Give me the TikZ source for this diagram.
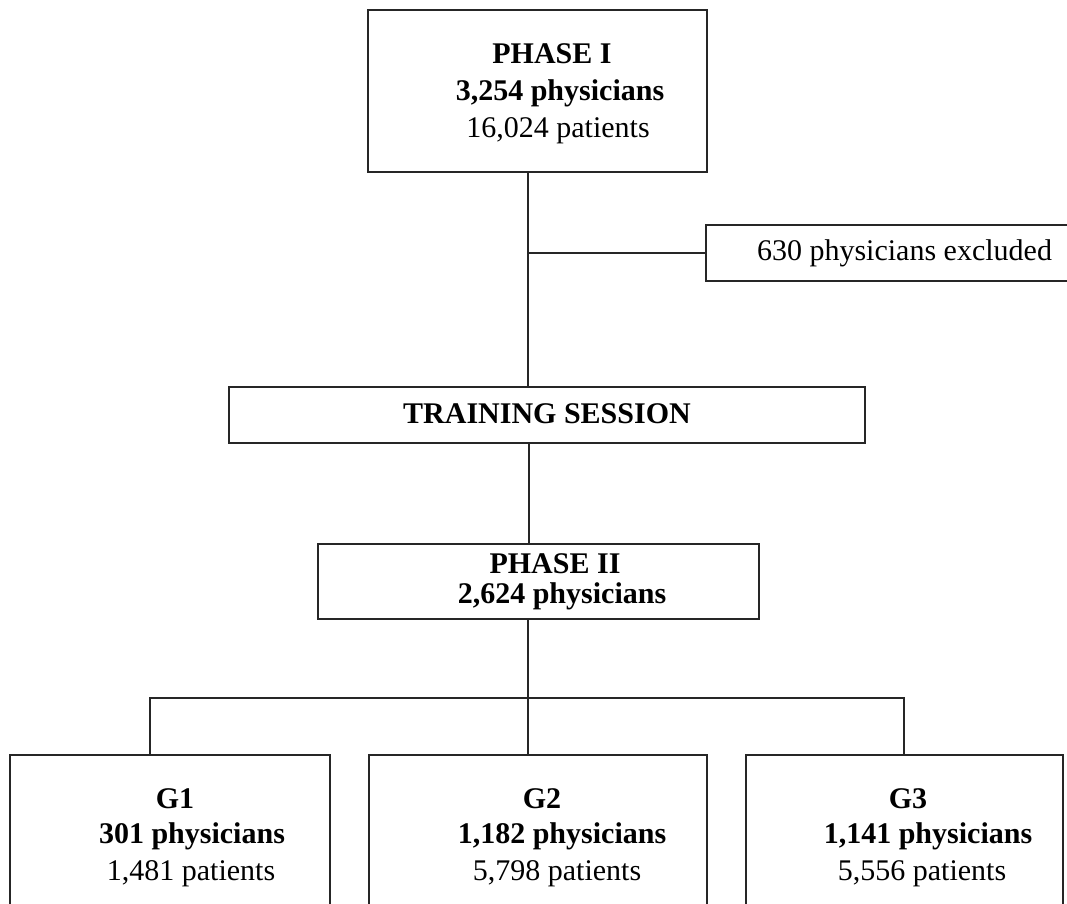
\documentclass[tikz,border=0pt]{standalone}
\usepackage{fontspec}
\setmainfont{Liberation Serif}
\begin{document}
\begin{tikzpicture}[x=1pt,y=-1pt,
  box/.style={draw=black!85,line width=1.6pt,fill=white,inner sep=0pt,anchor=center},
  lbl/.style={anchor=base,inner sep=0pt,font=\fontsize{30}{36}\selectfont},
  blbl/.style={lbl,font=\fontsize{30}{36}\selectfont\bfseries},
  conn/.style={draw=black!85,line width=1.6pt}]
\useasboundingbox (0,0) rectangle (1067,903);
\clip (0,0) rectangle (1067,903);
\fill[white] (0,0) rectangle (1067,903);
% spine coordinates
\coordinate (spine) at (528,0);
\coordinate (spineb) at (529,0);
\coordinate (busL) at (150,698);
\coordinate (busR) at (904,698);
% boxes
\node[box,minimum width=339pt,minimum height=162pt] (p1) at (537.5,91) {};
\node[box,minimum width=414pt,minimum height=56pt] (excl) at (913,253) {};
\node[box,minimum width=636pt,minimum height=56pt] (train) at (547,415) {};
\node[box,minimum width=441pt,minimum height=75pt] (p2) at (538.5,581.5) {};
\node[box,minimum width=320pt,minimum height=195pt] (g1) at (170,852.5) {};
\node[box,minimum width=338pt,minimum height=195pt] (g2) at (538,852.5) {};
\node[box,minimum width=317pt,minimum height=195pt] (g3) at (904.5,852.5) {};
% connectors
\draw[conn] (p1.south -| spine) -- (train.north -| spine);
\draw[conn] (excl.west -| spine) -- (excl.west);
\draw[conn] (train.south -| spineb) -- (p2.north -| spineb);
\draw[conn] (p2.south -| spine) -- (g2.north -| spine);
\draw[conn] (g1.north -| busL) -- (busL) -- (busR) -- (g3.north -| busR);
% texts
\node[blbl] (p1a) at (552,63) {PHASE I};
\node[blbl] (p1b) at (560,100) {3,254 physicians};
\node[lbl] (p1c) at (558,137) {16,024 patients};
\node[lbl] (exa) at (904.5,260) {630 physicians excluded};
\node[blbl] (tra) at (547,423) {TRAINING SESSION};
\node[blbl] (p2a) at (555,573) {PHASE II};
\node[blbl] (p2b) at (562,603) {2,624 physicians};
\node[blbl] (g1a) at (175,808) {G1};
\node[blbl] (g1b) at (192,843) {301 physicians};
\node[lbl] (g1c) at (191,880) {1,481 patients};
\node[blbl] (g2a) at (542,808) {G2};
\node[blbl] (g2b) at (562,843) {1,182 physicians};
\node[lbl] (g2c) at (557,880) {5,798 patients};
\node[blbl] (g3a) at (908,808) {G3};
\node[blbl] (g3b) at (928,843) {1,141 physicians};
\node[lbl] (g3c) at (922,880) {5,556 patients};
\end{tikzpicture}
\end{document}
